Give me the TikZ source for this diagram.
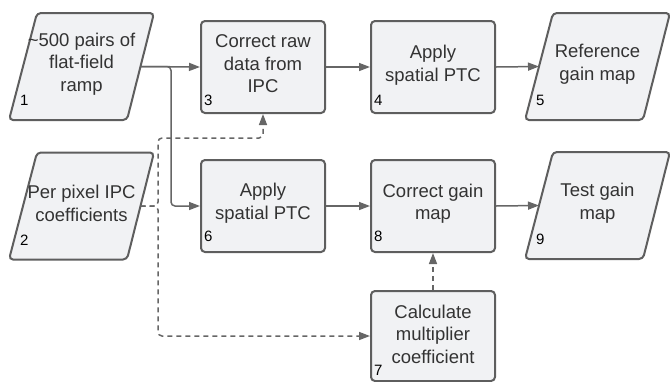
\documentclass[tikz,border=0pt]{standalone}
\usepackage{fontspec}
\setmainfont{Liberation Sans}
\usetikzlibrary{arrows.meta,calc}
\definecolor{boxfill}{HTML}{F1F2F4}
\definecolor{boxline}{HTML}{5E5E5E}
\definecolor{conncol}{HTML}{666666}
\definecolor{txtcol}{HTML}{333333}
\tikzset{
  x=1pt,y=-1pt,
  boxstyle/.style={draw=boxline,fill=boxfill,line width=2pt,rounded corners=4pt,
    minimum width=124pt,minimum height=92pt,inner sep=0pt},
  parastyle/.style={draw=boxline,fill=boxfill,line width=2pt,rounded corners=4pt},
  txt/.style={text=txtcol,font=\fontsize{18.5pt}{22.5pt}\selectfont,align=center,inner sep=0pt},
  numlbl/.style={text=black,font=\fontsize{15pt}{15pt}\selectfont,anchor=west,inner sep=0pt},
  conn/.style={draw=conncol,line width=1.5pt,-{Triangle[length=11pt,width=8pt]}},
  dconn/.style={conn,dash pattern=on 5pt off 4pt},
  plain/.style={draw=conncol,line width=1.5pt},
}
\newcommand{\mypara}[5]{% name, cx, cy, text, number
  \path[parastyle] (#2-44.5,#3-53.5) -- (#2+72.5,#3-53.5) -- (#2+45.5,#3+53.5) -- (#2-72.5,#3+53.5) -- cycle;
  \node[txt] (#1) at (#2,#3-2.5) {#4};
  \coordinate (#1r) at (#2+59,#3);
  \coordinate (#1l) at (#2-58.5,#3);
  \node[numlbl] (#1n) at (#2-61.5,#3+34) {#5};
}
\begin{document}
\begin{tikzpicture}
\useasboundingbox (0,0) rectangle (670,381);
\begin{scope}
\clip (0,0) rectangle (670,381);
% parallelograms
\mypara{p1}{81.5}{66.5}{\char`~500 pairs of\\flat-field\\ramp}{1}
\mypara{p2}{81.5}{206}{Per pixel IPC\\coefficients}{2}
\mypara{p5}{597.5}{66.5}{Reference\\gain map}{5}
\mypara{p9}{597.5}{205.5}{Test gain\\map}{9}
% boxes
\node[boxstyle] (b3) at (263,67) {};
\node[boxstyle] (b4) at (433,67) {};
\node[boxstyle] (b6) at (263,206) {};
\node[boxstyle] (b8) at (433,206) {};
\node[boxstyle,minimum height=90pt] (b7) at (433,336) {};
\node[txt] (t3) at (263,64) {Correct raw\\data from\\IPC};
\node[txt] (t4) at (433,65) {Apply\\spatial PTC};
\node[txt] (t6) at (263,203) {Apply\\spatial PTC};
\node[txt] (t8) at (433,203.5) {Correct gain\\map};
\node[txt] (t7) at (433,334) {Calculate\\multiplier\\coefficient};
\node[numlbl] (n3) at (204,100) {3};
\node[numlbl] (n4) at (374,100) {4};
\node[numlbl] (n6) at (204,236) {6};
\node[numlbl] (n8) at (374,236) {8};
\node[numlbl] (n7) at (374,370) {7};
% solid connectors
\draw[conn] (p1r) -- (b3.west);
\draw[conn,rounded corners=4pt] (p1r) -- ($(p1r)+(30.5,0)$) |- (b6.west);
\draw[conn] (b3.east) -- (b4.west);
\draw[conn] (b4.east) -- (p5l);
\draw[conn] (b6.east) -- (b8.west);
\draw[conn] (b8.east) -- (p9l);
% dashed connectors
\draw[dconn,rounded corners=4pt] (p2r) -- ($(p2r)+(17.5,0)$) |- ($(b3.south)+(0,24)$) -- (b3.south);
\draw[dconn,rounded corners=4pt] (p2r) -- ($(p2r)+(17.5,0)$) |- (b7.west);
\draw[dconn] (b7.north) -- (b8.south);
\end{scope}
\end{tikzpicture}
\end{document}
